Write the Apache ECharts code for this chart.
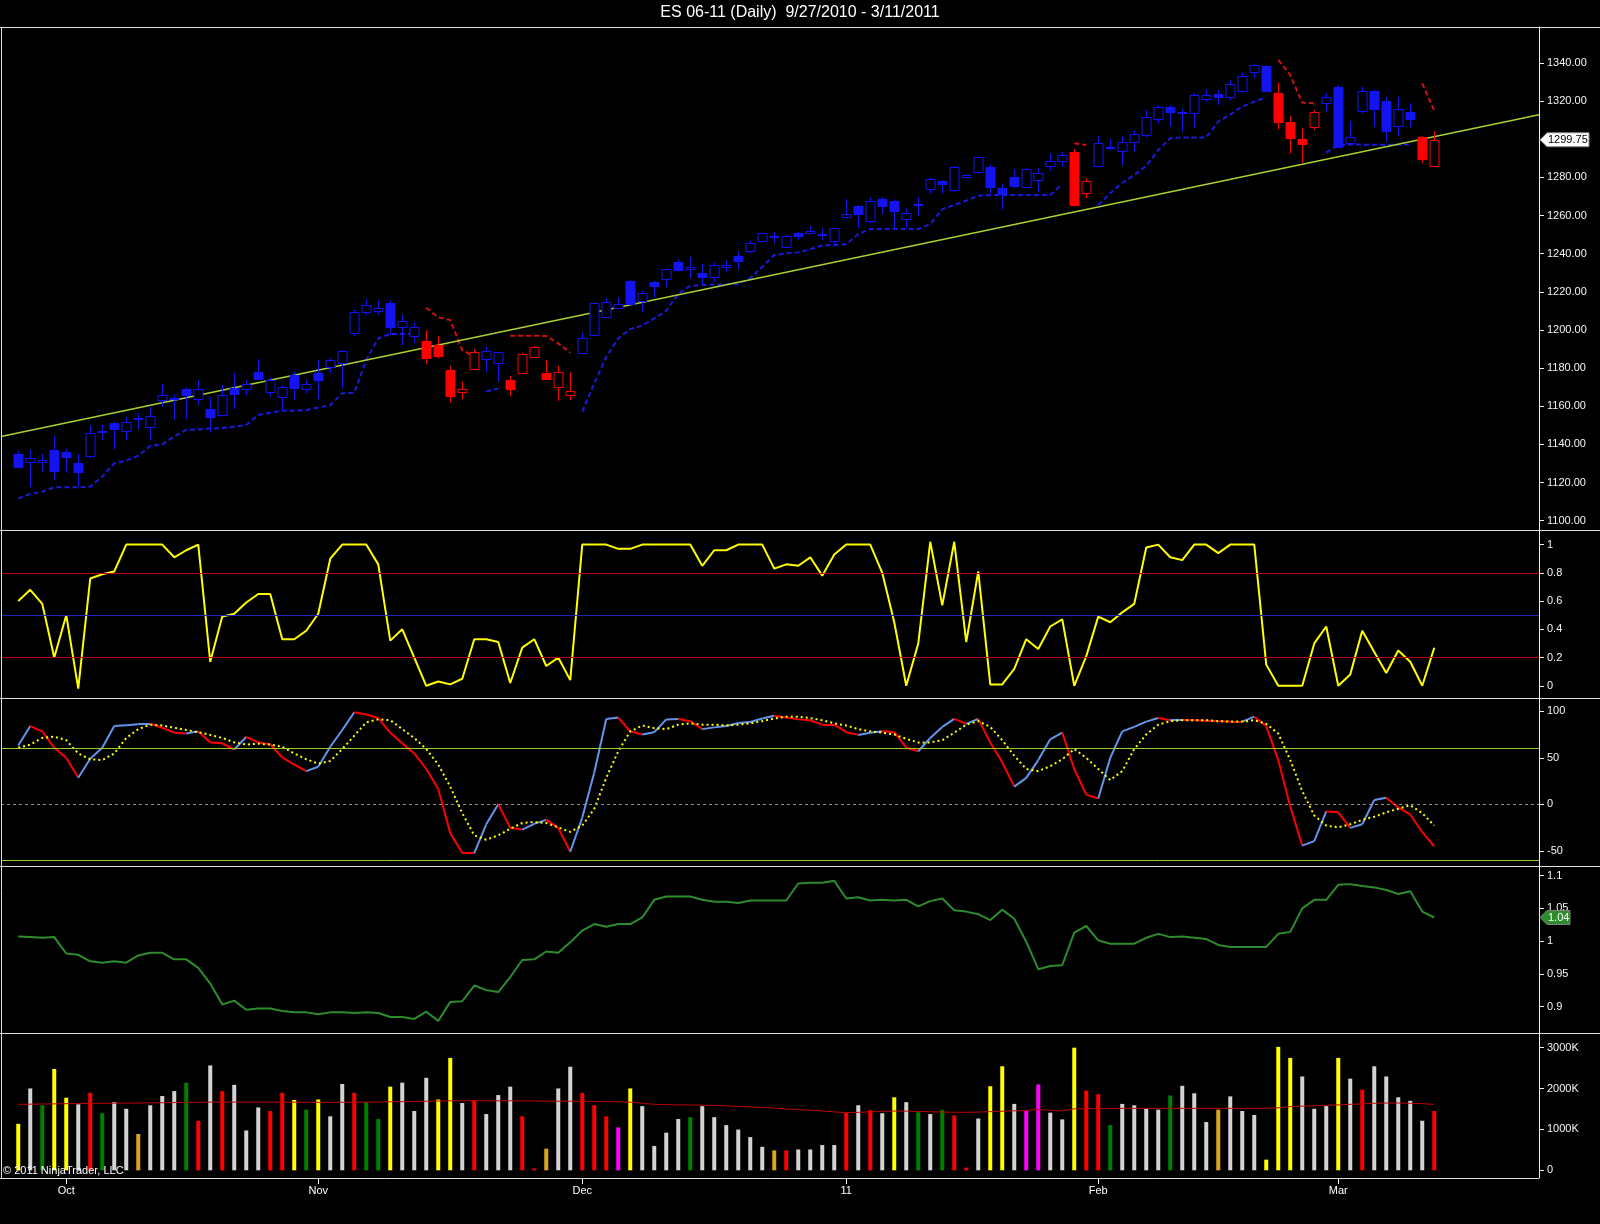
<!DOCTYPE html>
<html lang="en">
<head>
  <meta charset="UTF-8" />
  <title>ES 06-11 (Daily)</title>
  <script src="https://cdn.jsdelivr.net/npm/echarts@6/dist/echarts.min.js"></script>
  <style>
    html, body { margin: 0; padding: 0; background: #000; }
    #chart { width: 1600px; height: 1224px; }
  </style>
</head>
<body>
  <div id="chart"></div>

  <script>
    // ---- data (bar index 0 = 9/27/2010) ----
    const open = [
      1135.0, 1130.8, 1130.6, 1136.9, 1135.8, 1130.1, 1134.1, 1146.3, 1151.1, 1146.9,
      1153.3, 1149.0, 1163.1, 1163.6, 1169.1, 1163.6, 1158.6, 1155.4, 1169.8, 1168.9,
      1178.0, 1167.3, 1165.0, 1176.2, 1168.9, 1177.3, 1180.4, 1182.9, 1198.2, 1209.3,
      1210.1, 1214.0, 1201.7, 1196.9, 1194.2, 1192.3, 1179.0, 1167.7, 1179.4, 1185.0,
      1182.9, 1173.6, 1177.6, 1186.0, 1177.3, 1170.3, 1165.7, 1187.8, 1197.4, 1207.0,
      1211.7, 1225.7, 1215.4, 1225.3, 1226.9, 1235.8, 1232.2, 1229.7, 1227.6, 1232.9,
      1238.9, 1241.6, 1246.8, 1248.6, 1243.3, 1251.0, 1251.0, 1249.6, 1246.8, 1259.1,
      1265.2, 1257.3, 1268.5, 1267.6, 1258.0, 1265.3, 1273.9, 1278.3, 1273.4, 1280.0,
      1283.0, 1285.6, 1274.6, 1280.4, 1274.8, 1278.6, 1286.2, 1288.8, 1293.2, 1272.0,
      1286.0, 1295.3, 1294.0, 1298.8, 1302.3, 1310.5, 1317.1, 1313.6, 1313.6, 1321.1,
      1323.7, 1322.3, 1325.5, 1335.1, 1338.4, 1324.1, 1309.2, 1300.1, 1306.3, 1319.2,
      1327.2, 1298.2, 1315.0, 1325.3, 1320.1, 1307.0, 1314.3, 1301.0, 1286.0
    ];
    const close = [
      1128.3, 1132.7, 1131.6, 1126.2, 1133.2, 1125.4, 1145.8, 1147.0, 1148.1, 1151.6,
      1154.0, 1155.1, 1165.7, 1164.2, 1165.7, 1169.2, 1154.6, 1165.7, 1166.6, 1171.9,
      1174.1, 1173.8, 1169.9, 1169.8, 1171.5, 1173.8, 1184.1, 1189.0, 1209.3, 1213.1,
      1211.3, 1201.4, 1204.9, 1201.4, 1185.5, 1186.4, 1165.6, 1168.9, 1188.6, 1188.8,
      1188.3, 1168.9, 1187.2, 1191.1, 1174.1, 1177.8, 1167.8, 1195.6, 1214.0, 1214.5,
      1213.5, 1213.6, 1219.2, 1223.2, 1232.0, 1231.5, 1233.2, 1227.6, 1234.1, 1234.1,
      1236.4, 1245.8, 1250.7, 1249.3, 1249.3, 1249.5, 1251.9, 1250.2, 1253.3, 1260.6,
      1260.8, 1267.8, 1265.2, 1262.6, 1261.2, 1265.9, 1279.2, 1276.5, 1285.6, 1281.1,
      1290.5, 1274.8, 1271.3, 1275.5, 1284.2, 1282.5, 1288.8, 1291.8, 1265.5, 1278.3,
      1297.9, 1296.1, 1298.8, 1302.6, 1311.5, 1317.1, 1314.5, 1314.3, 1323.0, 1323.4,
      1322.0, 1328.8, 1333.4, 1338.9, 1325.3, 1309.2, 1300.8, 1297.7, 1314.1, 1322.0,
      1296.1, 1301.4, 1325.3, 1315.7, 1304.5, 1315.9, 1310.8, 1289.5, 1299.75
    ];
    const high = [
      1136.7, 1137.4, 1135.3, 1144.6, 1137.8, 1135.0, 1150.0, 1150.2, 1151.9, 1154.6,
      1156.3, 1159.8, 1171.7, 1166.2, 1169.9, 1173.8, 1164.7, 1171.2, 1177.6, 1173.8,
      1184.6, 1175.2, 1171.2, 1178.2, 1174.1, 1184.3, 1185.1, 1189.5, 1210.5, 1216.1,
      1215.7, 1215.7, 1207.9, 1203.8, 1200.0, 1196.9, 1181.1, 1172.9, 1189.9, 1191.2,
      1188.6, 1175.9, 1188.1, 1191.6, 1184.3, 1181.1, 1177.8, 1198.6, 1214.3, 1216.6,
      1217.1, 1226.2, 1220.6, 1225.7, 1232.3, 1237.0, 1238.4, 1234.6, 1235.3, 1236.7,
      1241.3, 1246.8, 1251.0, 1251.5, 1249.6, 1251.5, 1254.5, 1253.3, 1253.6, 1268.5,
      1265.5, 1269.6, 1269.6, 1268.5, 1263.8, 1269.6, 1279.9, 1278.6, 1286.0, 1281.6,
      1290.9, 1287.0, 1276.9, 1284.2, 1284.8, 1284.8, 1292.6, 1293.5, 1294.7, 1279.5,
      1301.7, 1300.0, 1301.7, 1304.5, 1315.3, 1318.0, 1318.0, 1316.2, 1324.1, 1326.2,
      1325.8, 1331.1, 1334.9, 1339.8, 1338.9, 1329.7, 1312.2, 1305.7, 1315.3, 1324.4,
      1328.5, 1309.7, 1327.6, 1326.2, 1322.3, 1322.3, 1318.9, 1301.7, 1304.3
    ];
    const low = [
      1127.5, 1117.5, 1125.7, 1121.3, 1125.2, 1117.9, 1132.7, 1142.3, 1137.4, 1142.3,
      1147.9, 1142.3, 1159.8, 1152.8, 1153.2, 1160.7, 1146.2, 1154.6, 1158.6, 1165.9,
      1173.8, 1165.0, 1158.0, 1163.3, 1166.8, 1163.6, 1177.3, 1169.4, 1196.8, 1207.9,
      1207.9, 1197.4, 1192.1, 1193.0, 1182.2, 1185.1, 1161.9, 1163.6, 1179.0, 1178.1,
      1172.9, 1165.4, 1177.3, 1185.7, 1173.8, 1162.8, 1163.3, 1187.4, 1196.9, 1206.6,
      1211.3, 1213.1, 1209.6, 1217.1, 1222.4, 1230.6, 1227.1, 1223.6, 1225.3, 1230.1,
      1232.0, 1240.2, 1245.8, 1245.4, 1243.0, 1247.2, 1250.3, 1247.2, 1243.7, 1258.5,
      1253.3, 1255.9, 1260.8, 1252.4, 1253.3, 1259.8, 1271.7, 1271.7, 1272.5, 1279.5,
      1282.1, 1271.7, 1263.3, 1274.3, 1274.3, 1272.5, 1283.5, 1285.6, 1265.5, 1269.0,
      1285.3, 1294.4, 1286.5, 1293.5, 1301.0, 1308.4, 1306.6, 1304.0, 1305.8, 1319.7,
      1318.0, 1320.6, 1324.4, 1332.0, 1325.0, 1305.2, 1292.6, 1287.7, 1304.9, 1314.5,
      1295.8, 1297.0, 1313.6, 1306.3, 1298.7, 1301.7, 1306.3, 1287.4, 1285.3
    ];
    // trend runs, starting blue (up) and alternating blue / red
    const trendRuns = [34, 5, 2, 6, 41, 2, 15, 4, 8, 2];
    // trailing stop (blue under price in up trend, red over price in down trend)
    const stop = [
      1111.7, 1114.0, 1115.2, 1117.5, 1117.5, 1117.5, 1117.8, 1123.1, 1130.1, 1131.5,
      1134.1, 1139.2, 1140.0, 1144.1, 1147.6, 1147.9, 1148.3, 1148.6, 1149.3, 1150.2,
      1155.4, 1156.6, 1157.7, 1157.7, 1158.0, 1159.4, 1160.5, 1166.8, 1167.1, 1184.3,
      1195.6, 1197.9, 1197.9, 1197.9, 1211.7, 1206.6, 1205.2, 1189.5, 1186.0, 1167.7,
      1169.4, 1197.0, 1197.0, 1197.0, 1196.8, 1193.0, 1188.1, 1157.2, 1172.0, 1186.0,
      1195.6, 1200.5, 1202.3, 1206.1, 1210.1, 1218.9, 1223.1, 1223.6, 1223.9, 1223.9,
      1224.1, 1227.1, 1233.2, 1239.3, 1240.2, 1240.7, 1242.3, 1244.4, 1244.6, 1244.9,
      1250.3, 1252.9, 1252.9, 1252.9, 1252.9, 1252.9, 1255.6, 1263.3, 1265.5, 1267.8,
      1270.4, 1270.8, 1270.8, 1270.8, 1270.8, 1270.8, 1270.8, 1276.5, 1297.9, 1297.0,
      1265.5, 1271.7, 1277.2, 1281.3, 1286.0, 1294.4, 1300.5, 1301.0, 1301.0, 1301.0,
      1309.2, 1313.1, 1317.1, 1319.7, 1322.0, 1341.6, 1333.7, 1319.2, 1318.9, 1293.0,
      1297.0, 1297.3, 1297.2, 1297.2, 1297.2, 1297.2, 1297.3, 1329.3, 1315.0
    ];
    const trendX = [-1.44, 126.73];
    const trendY = [1144.2, 1312.9];

    const stoch = [
      0.60, 0.68, 0.58, 0.20, 0.50, -0.02, 0.76, 0.79, 0.81, 1.0,
      1.0, 1.0, 1.0, 0.91, 0.96, 1.0, 0.17, 0.49, 0.51, 0.59,
      0.65, 0.65, 0.33, 0.33, 0.39, 0.51, 0.90, 1.0, 1.0, 1.0,
      0.86, 0.32, 0.40, 0.20, 0.0, 0.03, 0.01, 0.05, 0.33, 0.33,
      0.31, 0.02, 0.27, 0.33, 0.14, 0.20, 0.04, 1.0, 1.0, 1.0,
      0.97, 0.97, 1.0, 1.0, 1.0, 1.0, 1.0, 0.85, 0.96, 0.96,
      1.0, 1.0, 1.0, 0.83, 0.86, 0.85, 0.91, 0.78, 0.93, 1.0,
      1.0, 1.0, 0.80, 0.45, 0.0, 0.30, 1.02, 0.57, 1.02, 0.31,
      0.81, 0.01, 0.01, 0.12, 0.33, 0.26, 0.42, 0.47, 0.0, 0.21,
      0.49, 0.45, 0.52, 0.58, 0.98, 1.0, 0.91, 0.89, 1.0, 1.0,
      0.94, 1.0, 1.0, 1.0, 0.15, 0.0, 0.0, 0.0, 0.30, 0.42,
      0.0, 0.08, 0.39, 0.24, 0.09, 0.25, 0.17, 0.0, 0.27
    ];
    const stochLevels = [0.2, 0.5, 0.8];

    const osc = [
      63.3, 84.2, 78.5, 60.9, 50.0, 28.5, 49.0, 60.9, 84.2, 85.2,
      86.2, 86.6, 82.4, 77.1, 76.2, 78.5, 66.6, 65.7, 59.0, 72.4,
      66.6, 64.7, 50.4, 42.8, 35.7, 40.4, 61.9, 80.0, 99.0, 96.6,
      92.8, 77.1, 65.7, 54.7, 38.0, 16.6, -31.0, -52.4, -52.4, -21.5,
      0.0, -25.3, -27.2, -21.0, -16.7, -25.3, -51.0, -14.3, 34.2, 91.9,
      93.3, 78.5, 75.2, 77.6, 91.4, 91.9, 89.5, 80.9, 82.8, 84.2,
      87.6, 88.5, 92.4, 95.2, 93.3, 91.4, 90.5, 85.7, 85.7, 77.6,
      74.7, 77.1, 78.5, 77.6, 60.9, 57.1, 71.4, 83.3, 91.9, 86.6,
      91.9, 66.6, 45.2, 19.0, 28.5, 47.6, 70.0, 77.1, 38.0, 10.4,
      6.2, 50.0, 78.5, 83.3, 89.0, 92.8, 90.5, 90.6, 90.5, 90.0,
      89.5, 89.0, 89.0, 94.3, 84.2, 47.6, -2.4, -44.4, -39.6, -7.7,
      -8.6, -25.3, -21.5, 4.7, 7.1, -3.4, -11.0, -30.0, -45.3
    ];
    const oscSignal = [
      60.9, 64.3, 71.4, 72.9, 69.0, 54.7, 48.5, 47.6, 54.7, 71.4,
      80.9, 85.7, 84.8, 82.4, 80.0, 77.6, 74.7, 71.4, 66.6, 64.3,
      65.2, 64.3, 61.9, 54.7, 48.5, 43.8, 46.6, 59.5, 73.8, 88.1,
      91.4, 90.5, 80.9, 71.4, 59.5, 42.8, 19.0, -9.5, -33.4, -38.1,
      -33.4, -26.2, -20.1, -19.1, -20.1, -24.8, -29.6, -22.9, -4.8, 28.5,
      57.1, 78.5, 84.8, 81.9, 80.9, 85.7, 87.1, 85.7, 85.7, 84.8,
      85.7, 87.1, 89.5, 92.4, 94.3, 94.3, 92.8, 90.5, 87.1, 84.8,
      80.9, 78.5, 77.1, 75.2, 70.4, 66.6, 66.6, 69.0, 77.1, 85.7,
      89.5, 83.3, 69.0, 52.3, 38.0, 35.7, 41.0, 48.5, 59.5, 50.0,
      38.0, 26.1, 35.7, 59.5, 75.2, 85.7, 89.5, 90.5, 90.5, 90.5,
      89.5, 89.0, 89.0, 90.5, 86.6, 76.2, 47.6, 14.2, -12.0, -22.9,
      -24.8, -21.5, -16.7, -13.4, -8.6, -4.8, -1.0, -9.5, -22.9
    ];
    const oscLevels = [-60, 60];

    const ratio = [
      1.007, 1.006, 1.005, 1.006, 0.981, 0.979, 0.969, 0.967, 0.969, 0.967,
      0.978, 0.982, 0.982, 0.972, 0.972, 0.959, 0.935, 0.903, 0.909, 0.895,
      0.897, 0.897, 0.893, 0.891, 0.891, 0.888, 0.891, 0.891, 0.890, 0.891,
      0.890, 0.884, 0.884, 0.881, 0.892, 0.878, 0.907, 0.908, 0.932, 0.925,
      0.922, 0.945, 0.971, 0.972, 0.984, 0.982, 0.998, 1.016, 1.026, 1.022,
      1.026, 1.026, 1.036, 1.063, 1.068, 1.068, 1.068, 1.063, 1.060, 1.060,
      1.058, 1.062, 1.062, 1.062, 1.062, 1.088, 1.089, 1.089, 1.092, 1.065,
      1.067, 1.062, 1.063, 1.062, 1.063, 1.053, 1.061, 1.065, 1.047, 1.045,
      1.041, 1.032, 1.048, 1.034, 0.999, 0.957, 0.962, 0.963, 1.013, 1.023,
      1.001, 0.996, 0.996, 0.996, 1.005, 1.011, 1.006, 1.007, 1.005, 1.003,
      0.994, 0.991, 0.991, 0.991, 0.991, 1.011, 1.014, 1.050, 1.063, 1.063,
      1.086, 1.087, 1.084, 1.082, 1.078, 1.072, 1.076, 1.045, 1.036
    ];

    // volume in thousands, and bar colour codes
    const volume = [
      1138, 2003, 1591, 2480, 1776, 1614, 1895, 1397, 1668, 1505,
      888, 1591, 1819, 1938, 2144, 1213, 2566, 1938, 2090, 975,
      1538, 1451, 1895, 1722, 1484, 1733, 1321, 2111, 1895, 1668,
      1256, 2047, 2144, 1451, 2263, 1733, 2750, 1646, 1722, 1376,
      1841, 2047, 1321, 44, 531, 2003, 2534, 1895, 1591, 1321,
      1051, 2003, 1570, 596, 921, 1256, 1300, 1570, 1300, 1105,
      997, 813, 575, 488, 488, 510, 510, 618, 618, 1408,
      1591, 1473, 1397, 1787, 1668, 1419, 1376, 1473, 1343, 66,
      1267, 2057, 2545, 1625, 1473, 2101, 1410, 1246, 3000, 1950,
      1863, 1105, 1625, 1591, 1505, 1484, 1830, 2068, 1884, 1181,
      1484, 1808, 1451, 1354, 261, 3021, 2750, 2296, 1505, 1570,
      2750, 2242, 1971, 2545, 2296, 1787, 1700, 1213, 1451
    ];
    const volumeKind =
      'YWGYYWRGWW' + 'OWWWGRWRWW' + 'WRRYGYWWRG' + 'GYWWWYYWRW' +
      'WWRROWWRRR' + 'MYWWWWGWWW' + 'WWWORWWWWR' + 'WRWYWGWGRR' +
      'WYYWMMWWYR' + 'RGWWWWGWWW' + 'OWWWYYYWWW' + 'YWRWWWWWR';
    const volumeAvg = [
      1614, 1618, 1622, 1626, 1630, 1635, 1637, 1640, 1642, 1644,
      1646, 1650, 1654, 1658, 1662, 1665, 1668, 1668, 1668, 1668,
      1668, 1668, 1668, 1666, 1664, 1662, 1662, 1664, 1666, 1668,
      1672, 1676, 1679, 1684, 1690, 1696, 1700, 1702, 1702, 1700,
      1700, 1700, 1698, 1696, 1694, 1690, 1690, 1688, 1685, 1680,
      1675, 1668, 1640, 1614, 1608, 1602, 1598, 1593, 1588, 1575,
      1562, 1550, 1538, 1520, 1500, 1484, 1470, 1450, 1430, 1408,
      1418, 1430, 1440, 1451, 1448, 1440, 1432, 1425, 1420, 1419,
      1425, 1435, 1445, 1455, 1465, 1484, 1470, 1451, 1505, 1508,
      1510, 1512, 1514, 1515, 1516, 1516, 1516, 1516, 1516, 1516,
      1516, 1516, 1516, 1516, 1516, 1530, 1560, 1570, 1580, 1591,
      1600, 1614, 1625, 1640, 1646, 1646, 1640, 1630, 1614
    ];

    // axis ticks
    const priceTicks = [1100, 1120, 1140, 1160, 1180, 1200, 1220, 1240, 1260, 1280, 1300, 1320, 1340];
    const stochTicks = [0, 0.2, 0.4, 0.6, 0.8, 1];
    const oscTicks = [-50, 0, 50, 100];
    const ratioTicks = [0.9, 0.95, 1, 1.05, 1.1];
    const volumeTicks = [0, 1000, 2000, 3000];
    const monthTicks = [4, 25, 47, 69, 90, 110];
    const monthLabels = ['Oct', 'Nov', 'Dec', '11', 'Feb', 'Mar'];

    // ---- look ----
    const FONT = "'Liberation Sans', Arial, sans-serif";
    const BLUE = '#1414f0';
    const RED = '#ff0000';
    const VOL_COLORS = { W: '#d3d3d3', Y: '#ffff00', G: '#008000', R: '#ff0000', O: '#daa520', M: '#ff00ff' };
    const X_MIN = -1.4375, X_MAX = 126.729;
    const GRID_LEFT = 1, GRID_RIGHT = 61;

    const panels = [
      { top: 27, height: 503, min: 1095.12, max: 1358.88, ticks: priceTicks, fmt: v => v.toFixed(2) },
      { top: 530, height: 168, min: -0.0864, max: 1.1034, ticks: stochTicks, fmt: v => String(v) },
      { top: 698, height: 168, min: -66.36, max: 114.4, ticks: oscTicks, fmt: v => String(v) },
      { top: 866, height: 167.5, min: 0.8587, max: 1.1147, ticks: ratioTicks, fmt: v => String(v) },
      { top: 1033.5, height: 144.5, min: -188, max: 3347, ticks: volumeTicks, fmt: v => v === 0 ? '0' : v + 'K' }
    ];

    function buildTrend() {
      const t = [];
      trendRuns.forEach((n, r) => {
        for (let k = 0; k < n; k++) t.push(r % 2 === 0 ? 1 : 0);
      });
      return t;
    }

    function renderCandle(params, api) {
      const i = api.value(0);
      const o = api.value(1), c = api.value(2), lo = api.value(3), hi = api.value(4);
      const col = api.value(5) ? BLUE : RED;
      const x = Math.round(api.coord([i, o])[0]) + 0.5;
      const yO = api.coord([i, o])[1], yC = api.coord([i, c])[1];
      const yH = api.coord([i, hi])[1], yL = api.coord([i, lo])[1];
      const top = Math.round(Math.min(yO, yC)) + 0.5;
      const bot = Math.round(Math.max(yO, yC)) + 0.5;
      const w = Math.round(api.size([1, 0])[0] * 0.75);
      const hollow = c > o;
      return {
        type: 'group',
        children: [
          { type: 'line', shape: { x1: x, y1: yH, x2: x, y2: top }, style: { stroke: col, lineWidth: 1 } },
          { type: 'line', shape: { x1: x, y1: bot, x2: x, y2: yL }, style: { stroke: col, lineWidth: 1 } },
          {
            type: 'rect',
            shape: { x: x - w / 2, y: top, width: w, height: Math.max(1, bot - top) },
            style: { fill: hollow ? '#000' : col, stroke: col, lineWidth: 1 }
          }
        ]
      };
    }

    function levelLine(values, colors, type) {
      return {
        symbol: 'none', silent: true, label: { show: false },
        data: values.map((v, k) => ({ yAxis: v, lineStyle: { color: colors[k], width: 1, type: type || 'solid' } }))
      };
    }

    function drawChart() {
      const trend = buildTrend();
      const chart = echarts.init(document.getElementById('chart'));

      const grids = panels.map(p => ({
        left: GRID_LEFT, right: GRID_RIGHT, top: p.top, height: p.height,
        containLabel: false, outerBoundsMode: 'none'
      }));

      const xAxes = panels.map((p, g) => ({
        type: 'value', gridIndex: g, min: X_MIN, max: X_MAX,
        show: g === 4,
        splitLine: { show: false },
        axisLine: { show: false, onZero: false },
        axisTick: g === 4 ? { show: true, customValues: monthTicks, length: 6, lineStyle: { color: '#fff' } } : { show: false },
        axisLabel: g === 4 ? {
          show: true, customValues: monthTicks, margin: 7,
          color: '#fff', fontSize: 11, fontFamily: FONT,
          formatter: v => monthLabels[monthTicks.indexOf(Math.round(v))] || ''
        } : { show: false }
      }));

      const yAxes = panels.map((p, g) => ({
        type: 'value', gridIndex: g, position: 'right',
        min: p.min, max: p.max,
        splitLine: { show: false },
        axisLine: { show: true, onZero: false, lineStyle: { color: '#f0f0f0' } },
        axisTick: { show: true, customValues: p.ticks, length: 5, lineStyle: { color: '#f0f0f0' } },
        axisLabel: {
          show: true, customValues: p.ticks, margin: 8,
          color: '#f4f4f4', fontSize: 11, fontFamily: FONT,
          formatter: p.fmt
        }
      }));

      const candleData = open.map((o, k) => [k, o, close[k], low[k], high[k], trend[k]]);
      const blueStop = stop.map((v, k) => [k, trend[k] ? v : '-']);
      const redStop = stop.map((v, k) => [k, trend[k] ? '-' : v]);

      const oscSegments = [];
      for (let k = 1; k < osc.length; k++) {
        oscSegments.push({
          coords: [[k - 1, osc[k - 1]], [k, osc[k]]],
          lineStyle: { color: osc[k] > osc[k - 1] ? '#6495ed' : '#ff0000' }
        });
      }

      const series = [
        // price panel
        {
          type: 'line', xAxisIndex: 0, yAxisIndex: 0, symbol: 'none', silent: true,
          data: trendX.map((x, k) => [x, trendY[k]]),
          lineStyle: { color: '#a8d030', width: 1.5 }, z: 3
        },
        {
          type: 'line', xAxisIndex: 0, yAxisIndex: 0, symbol: 'none', connectNulls: false,
          data: blueStop, lineStyle: { color: '#1a1ad8', width: 2, type: [5, 3] }, z: 2
        },
        {
          type: 'line', xAxisIndex: 0, yAxisIndex: 0, symbol: 'none', connectNulls: false,
          data: redStop, lineStyle: { color: '#d01010', width: 2, type: [5, 3] }, z: 2
        },
        {
          type: 'custom', xAxisIndex: 0, yAxisIndex: 0,
          renderItem: renderCandle,
          encode: { x: 0, y: [1, 2, 3, 4] },
          data: candleData, z: 4
        },
        // stochastic panel
        {
          type: 'line', xAxisIndex: 1, yAxisIndex: 1, symbol: 'none',
          data: stoch.map((v, k) => [k, v]),
          lineStyle: { color: '#ffff00', width: 2 }, z: 3,
          markLine: levelLine(stochLevels, ['#c00000', '#2424b4', '#c00000'])
        },
        // oscillator panel
        {
          type: 'line', xAxisIndex: 2, yAxisIndex: 2, symbol: 'none', silent: true,
          data: [], markLine: levelLine([0], ['#909090'], [3, 3])
        },
        {
          type: 'line', xAxisIndex: 2, yAxisIndex: 2, symbol: 'none', silent: true,
          data: [], markLine: levelLine(oscLevels, ['#9acd32', '#9acd32'])
        },
        {
          type: 'lines', coordinateSystem: 'cartesian2d', xAxisIndex: 2, yAxisIndex: 2,
          data: oscSegments, lineStyle: { width: 2, opacity: 1 }, z: 3
        },
        {
          type: 'line', xAxisIndex: 2, yAxisIndex: 2, symbol: 'none',
          data: oscSignal.map((v, k) => [k, v]),
          lineStyle: { color: '#ffff00', width: 2, type: [2, 3] }, z: 4
        },
        // ratio panel
        {
          type: 'line', xAxisIndex: 3, yAxisIndex: 3, symbol: 'none',
          data: ratio.map((v, k) => [k, v]),
          lineStyle: { color: '#2e8b2e', width: 2 }, z: 3
        },
        // volume panel
        {
          type: 'bar', xAxisIndex: 4, yAxisIndex: 4, barWidth: 4,
          data: volume.map((v, k) => ({ value: [k, v], itemStyle: { color: VOL_COLORS[volumeKind[k]] } })),
          z: 2
        },
        {
          type: 'line', xAxisIndex: 4, yAxisIndex: 4, symbol: 'none',
          data: volumeAvg.map((v, k) => [k, v]),
          lineStyle: { color: '#c00000', width: 1 }, z: 3
        }
      ];

      chart.setOption({
        animation: false,
        backgroundColor: '#000',
        grid: grids,
        xAxis: xAxes,
        yAxis: yAxes,
        series: series
      });

      // frame, title and value tags, placed through the axes' own scales
      const frame = '#e0e0e0';
      const hLine = (id, y, x2) => ({
        id: id, type: 'line', z: 100, silent: true,
        shape: { x1: 0, y1: y, x2: x2, y2: y }, style: { stroke: frame, lineWidth: 1 }
      });
      const last = close.length - 1;
      const yPrice = chart.convertToPixel({ yAxisIndex: 0 }, close[last]);
      const yRatio = chart.convertToPixel({ yAxisIndex: 3 }, ratio[last]);
      const tag = (id, y, x2, fill, textFill, text) => ([
        {
          id: id + 'Box', type: 'polygon', z: 110, silent: true,
          shape: { points: [[1540, y], [1547, y - 7], [x2, y - 7], [x2, y + 7], [1547, y + 7]] },
          style: { fill: fill, stroke: '#808080', lineWidth: 1 }
        },
        {
          id: id + 'Text', type: 'text', z: 111, silent: true, x: 1548, y: y,
          style: { text: text, fill: textFill, font: '11px ' + FONT, verticalAlign: 'middle' }
        }
      ]);

      chart.setOption({
        graphic: [
          {
            id: 'title', type: 'text', left: 'center', top: 5, z: 100,
            style: {
              text: 'ES 06-11 (Daily)  9/27/2010 - 3/11/2011',
              fill: '#fff', font: "normal 16px 'Liberation Sans', Arial, sans-serif"
            }
          },
          hLine('top', 27.5, 1600), hLine('s1', 530.5, 1600), hLine('s2', 698.5, 1600),
          hLine('s3', 866.5, 1600), hLine('s4', 1033.5, 1600), hLine('bottom', 1178.5, 1539),
          {
            id: 'left', type: 'line', z: 100, silent: true,
            shape: { x1: 1.5, y1: 27, x2: 1.5, y2: 1178.5 }, style: { stroke: frame, lineWidth: 1 }
          },
          {
            id: 'copy', type: 'text', left: 3, top: 1165, z: 100,
            style: { text: '\u00a9 2011 NinjaTrader, LLC', fill: '#fff', font: '11px ' + FONT }
          }
        ].concat(
          tag('price', yPrice, 1589, '#ffffff', '#000', close[last].toFixed(2)),
          tag('ratio', yRatio, 1570, '#2e8b2e', '#fff', ratio[last].toFixed(2))
        )
      });
    }

    drawChart();
  </script>
</body>
</html>
